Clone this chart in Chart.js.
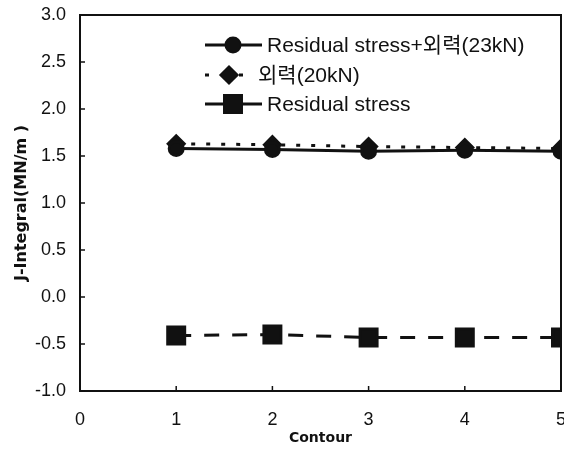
<!DOCTYPE html>
<html>
<head>
<meta charset="utf-8">
<script src="https://cdn.jsdelivr.net/npm/chart.js@4.4.1/dist/chart.umd.min.js"></script>
<style>
  html, body { margin: 0; padding: 0; background: #fff; overflow: hidden; }
  #wrap { width: 564px; height: 457px; overflow: hidden; }
</style>
</head>
<body>
<div id="wrap"><canvas id="c" width="576" height="457"></canvas></div>
<script>
// data
const contours = [1, 2, 3, 4, 5];
const combined = [1.58, 1.57, 1.55, 1.56, 1.55];   // Residual stress + 외력(23kN)
const loadOnly = [1.63, 1.62, 1.60, 1.59, 1.58];   // 외력(20kN)
const residual = [-0.41, -0.40, -0.43, -0.43, -0.43];
const xTicks = [0, 1, 2, 3, 4, 5];
const yTicks = [-1.0, -0.5, 0.0, 0.5, 1.0, 1.5, 2.0, 2.5, 3.0];

const labels = [
  'Residual stress+외력(23kN)',
  '외력(20kN)',
  'Residual stress',
];

const FONT = "'Liberation Sans', Arial, 'Noto Sans CJK KR', sans-serif";

const toPts = vals => vals.map((v, i) => ({ x: contours[i], y: v }));

// frame, inward ticks and the legend
const framePlugin = {
  id: 'frame',
  afterDraw(chart) {
    const { ctx, chartArea: a, scales } = chart;
    ctx.save();
    ctx.strokeStyle = '#111';
    ctx.lineWidth = 2;
    ctx.strokeRect(a.left, a.top, a.right - a.left, a.bottom - a.top);
    ctx.lineWidth = 1.5;
    ctx.beginPath();
    yTicks.forEach(v => {
      const y = scales.y.getPixelForValue(v);
      ctx.moveTo(a.left, y);
      ctx.lineTo(a.left + 5, y);
    });
    xTicks.forEach(v => {
      const x = scales.x.getPixelForValue(v);
      ctx.moveTo(x, a.bottom);
      ctx.lineTo(x, a.bottom - 5);
    });
    ctx.stroke();

    // legend
    const rows = [
      { y: 45, tx: 267 },
      { y: 75, tx: 258 },
      { y: 104, tx: 267 },
    ];
    chart.data.datasets.forEach((ds, i) => {
      const r = rows[i];
      const x0 = 205, x1 = i === 1 ? 254 : 262;
      ctx.strokeStyle = ds.borderColor;
      ctx.lineWidth = ds.borderWidth;
      ctx.setLineDash(i === 1 ? [4, 13] : []);
      ctx.beginPath();
      ctx.moveTo(x0, r.y);
      ctx.lineTo(x1, r.y);
      ctx.stroke();
      ctx.setLineDash([]);
      Chart.helpers.drawPoint(ctx, {
        pointStyle: ds.pointStyle,
        radius: ds.pointRadius,
        borderWidth: 1,
      }, i === 1 ? 229 : 233, r.y);
      ctx.fillStyle = '#111';
      ctx.fill();
      ctx.font = '21px ' + FONT;
      ctx.textBaseline = 'middle';
      ctx.fillText(labels[i], r.tx, r.y + 1);
    });
    ctx.restore();
  }
};

new Chart(document.getElementById('c'), {
  type: 'line',
  data: {
    datasets: [
      {
        label: labels[0],
        data: toPts(combined),
        borderColor: '#111',
        backgroundColor: '#111',
        borderWidth: 3,
        pointStyle: 'circle',
        pointRadius: 7,
        clip: 0,
      },
      {
        label: labels[1],
        data: toPts(loadOnly),
        borderColor: '#111',
        backgroundColor: '#111',
        borderWidth: 3,
        borderDash: [4, 11],
        pointStyle: 'rectRot',
        pointRadius: 8,
        clip: 0,
      },
      {
        label: labels[2],
        data: toPts(residual),
        borderColor: '#111',
        backgroundColor: '#111',
        borderWidth: 3,
        borderDash: [15, 13],
        pointStyle: 'rect',
        pointRadius: 12,
        clip: 0,
      },
    ],
  },
  options: {
    responsive: false,
    animation: false,
    layout: { padding: { left: 0, top: 15, right: 2, bottom: 0 } },
    plugins: {
      legend: { display: false },
      tooltip: { enabled: false },
    },
    scales: {
      x: {
        type: 'linear',
        min: 0,
        max: 5,
        afterFit: s => { s.height = 66; s.paddingLeft = 0; s.paddingRight = 0; },
        afterBuildTicks: s => { s.ticks = xTicks.map(v => ({ value: v })); },
        grid: { display: false, drawTicks: false },
        border: { display: false },
        ticks: {
          color: '#111',
          padding: 18,
          maxRotation: 0,
          font: { family: FONT, size: 18 },
          callback: v => String(v),
        },
        title: {
          display: true,
          text: 'Contour',
          color: '#111',
          padding: { top: 0, bottom: 10 },
          font: { family: "'DejaVu Sans', sans-serif", size: 14, weight: 'bold' },
        },
      },
      y: {
        min: -1,
        max: 3,
        afterFit: s => { s.width = 80; s.paddingTop = 0; s.paddingBottom = 0; },
        afterBuildTicks: s => { s.ticks = yTicks.map(v => ({ value: v })); },
        grid: { display: false, drawTicks: false },
        border: { display: false },
        ticks: {
          color: '#111',
          padding: 14,
          font: { family: FONT, size: 18 },
          callback: v => v.toFixed(1),
        },
        title: {
          display: true,
          text: 'J-Integral(MN/m )',
          color: '#111',
          padding: { top: 12, bottom: 0 },
          font: { family: "'DejaVu Sans', sans-serif", size: 16, weight: 'bold' },
        },
      },
    },
  },
  plugins: [framePlugin],
});
</script>
</body>
</html>
